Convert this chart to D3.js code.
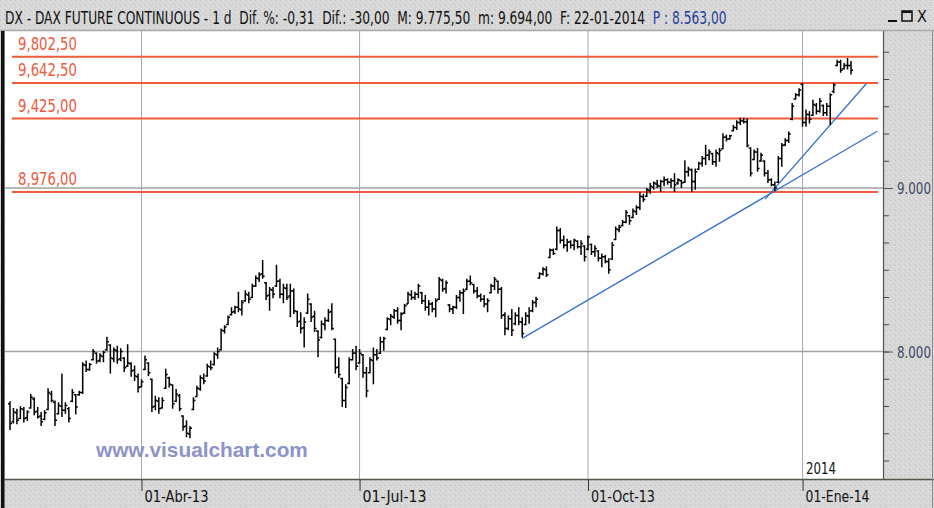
<!DOCTYPE html>
<html>
<head>
<meta charset="utf-8">
<script src="https://cdn.jsdelivr.net/npm/d3@7"></script>
<style>
  html, body { margin: 0; padding: 0; background: #fff; }
  svg { display: block; }
</style>
</head>
<body>
<svg id="chart"></svg>
<script>
const width = 934;
const height = 508;

// daily bars, 05-02-2013 ... 22-01-2014
const highs = [
  7695,7655,7650,7665,7660,7640,7740,7720,7660,7630,
  7640,7775,7760,7700,7690,7865,7690,7660,7770,7740,
  7760,7935,7945,7930,8015,7995,7990,8005,8090,8045,
  8025,8035,8020,7965,8045,7935,7915,7865,7830,7975,
  7935,7835,7730,7720,7720,7895,7845,7800,7770,7740,
  7610,7580,7545,7720,7790,7855,7865,7925,7945,7995,
  8025,8140,8160,8220,8270,8280,8365,8315,8375,8365,
  8415,8465,8485,8560,8425,8395,8395,8530,8445,8415,
  8415,8415,8385,8250,8240,8210,8355,8295,8250,8130,
  8190,8210,8260,8295,8080,7965,7840,7800,7965,8015,
  8035,8015,7985,7905,7965,8025,8015,8090,8090,8210,
  8230,8260,8270,8240,8290,8365,8375,8365,8415,8365,
  8345,8315,8305,8325,8455,8445,8435,8290,8280,8345,
  8375,8385,8445,8465,8415,8395,8355,8345,8325,8415,
  8455,8435,8395,8240,8220,8260,8240,8270,8210,8240,
  8270,8315,8335,8485,8515,8520,8630,8630,8765,8755,
  8710,8690,8680,8690,8680,8680,8650,8710,8660,8650,
  8620,8600,8590,8570,8670,8765,8775,8805,8865,8835,
  8875,8895,8975,8965,9000,9030,9040,9050,9050,9070,
  9060,9060,9090,9060,9050,9170,9130,9120,9120,9160,
  9195,9265,9235,9215,9235,9245,9335,9325,9325,9385,
  9415,9430,9430,9425,9250,9235,9245,9215,9170,9110,
  9060,9040,9195,9275,9305,9345,9520,9580,9610,9640,
  9480,9470,9540,9520,9550,9510,9520,9580,9640,9785,
  9785,9765,9795,9776
];
const lows = [
  7520,7560,7555,7585,7565,7575,7650,7610,7590,7545,
  7580,7640,7690,7545,7615,7600,7620,7565,7690,7615,
  7730,7740,7875,7880,7945,7925,7935,7935,8005,7865,
  7935,7925,7940,7875,7905,7845,7820,7750,7780,7885,
  7850,7630,7640,7620,7650,7770,7780,7650,7690,7635,
  7515,7475,7470,7640,7720,7760,7800,7845,7885,7915,
  7955,8005,8110,8160,8220,8230,8240,8220,8305,8295,
  8325,8395,8425,8445,8315,8250,8325,8395,8325,8295,
  8315,8210,8230,8150,8110,8025,8230,8180,8120,7965,
  8080,8130,8180,8130,7865,7840,7660,7655,7800,7945,
  7885,7925,7840,7720,7865,7800,7945,7985,8005,8130,
  8160,8200,8170,8130,8230,8290,8315,8315,8325,8290,
  8250,8220,8240,8210,8315,8365,8355,8240,8230,8260,
  8305,8230,8375,8405,8355,8325,8305,8270,8240,8355,
  8375,8355,8200,8100,8130,8095,8160,8160,8085,8160,
  8170,8240,8270,8445,8465,8455,8570,8590,8620,8660,
  8630,8610,8630,8620,8630,8590,8550,8620,8590,8580,
  8550,8515,8540,8475,8560,8680,8730,8765,8785,8775,
  8815,8835,8865,8915,8945,8965,8990,9000,8975,9010,
  9020,9000,8975,9020,9000,9030,9070,8975,8990,9110,
  9130,9140,9170,9140,9130,9160,9235,9285,9295,9345,
  9355,9385,9395,9250,9070,9170,9100,9160,9070,9030,
  9010,8980,9030,9130,9255,9275,9415,9540,9560,9375,
  9375,9395,9440,9450,9460,9440,9440,9385,9580,9745,
  9705,9725,9725,9694
];
const opens = [
  7680,7570,7625,7590,7645,7595,7655,7710,7635,7605,
  7585,7645,7740,7690,7620,7665,7640,7650,7695,7735,
  7735,7750,7915,7890,7950,7990,7945,7970,8010,8040,
  7955,8005,7955,7960,7910,7925,7885,7845,7785,7890,
  7930,7830,7665,7695,7655,7775,7840,7795,7695,7730,
  7605,7545,7495,7645,7725,7770,7835,7850,7905,7920,
  7980,8010,8125,8165,8225,8245,8270,8255,8310,8345,
  8330,8400,8445,8475,8420,8345,8375,8400,8430,8350,
  8385,8340,8370,8245,8185,8145,8235,8290,8215,8125,
  8085,8165,8190,8245,8075,7905,7835,7700,7805,7950,
  7990,7930,7980,7870,7870,7945,7980,7990,8060,8135,
  8195,8210,8250,8190,8235,8290,8345,8330,8350,8360,
  8310,8270,8290,8260,8320,8435,8385,8285,8260,8270,
  8330,8360,8380,8430,8410,8370,8340,8320,8290,8360,
  8400,8430,8380,8225,8140,8200,8170,8220,8180,8165,
  8215,8250,8300,8450,8475,8500,8575,8620,8625,8740,
  8680,8650,8670,8650,8675,8640,8645,8625,8655,8610,
  8615,8570,8580,8550,8565,8685,8745,8770,8790,8830,
  8820,8855,8880,8945,8950,8985,9005,9025,9010,9040,
  9050,9035,9045,9030,9045,9035,9100,9110,9040,9115,
  9150,9180,9200,9210,9160,9210,9240,9310,9300,9350,
  9370,9400,9410,9405,9245,9175,9220,9165,9165,9090,
  9050,9020,9035,9180,9265,9290,9420,9545,9570,9635,
  9400,9450,9445,9505,9470,9505,9460,9500,9590,9750,
  9770,9730,9750,9750
];
const closes = [
  7560,7630,7580,7650,7590,7630,7720,7630,7600,7570,
  7625,7750,7700,7580,7670,7640,7670,7590,7750,7660,
  7750,7920,7890,7920,8000,7940,7975,7995,8060,7960,
  8010,7950,8000,7900,7930,7880,7850,7780,7815,7950,
  7870,7660,7700,7650,7700,7860,7800,7680,7740,7650,
  7540,7500,7530,7700,7775,7840,7820,7910,7900,7985,
  8000,8130,8150,8210,8240,8270,8260,8300,8350,8320,
  8400,8450,8470,8460,8340,8380,8350,8430,8350,8390,
  8330,8370,8250,8180,8140,8180,8320,8210,8140,8070,
  8170,8190,8240,8140,7900,7860,7700,7780,7950,7990,
  7910,7990,7870,7760,7950,7980,7960,8060,8080,8200,
  8215,8250,8190,8230,8280,8350,8330,8350,8400,8310,
  8270,8290,8260,8310,8440,8380,8420,8260,8270,8330,
  8360,8370,8430,8420,8370,8340,8320,8290,8310,8400,
  8440,8380,8220,8140,8200,8130,8220,8180,8110,8220,
  8250,8300,8320,8475,8505,8470,8620,8600,8740,8680,
  8650,8670,8650,8680,8640,8660,8580,8700,8610,8630,
  8570,8580,8550,8500,8650,8750,8760,8790,8850,8800,
  8860,8880,8950,8930,8990,9010,9030,9015,9040,9050,
  9035,9045,9020,9050,9030,9100,9115,9040,9100,9150,
  9180,9200,9220,9160,9215,9230,9310,9300,9320,9370,
  9400,9410,9405,9260,9090,9220,9120,9200,9090,9050,
  9020,9000,9180,9260,9290,9330,9500,9570,9600,9400,
  9450,9420,9510,9470,9530,9460,9500,9570,9630,9770,
  9720,9750,9750,9720
];

// horizontal support / resistance levels
const levels = [9802.5, 9642.5, 9425, 8976];
const levelLabels = ["9,802,50", "9,642,50", "9,425,00", "8,976,00"];

// price grid and right axis labels
const gridPrices = [8000, 9000];
const gridLabels = ["8.000", "9.000"];

// month ticks (bar index) and labels
const monthIdx = [38, 101, 167, 229];
const monthLabels = ["01-Abr-13", "01-Jul-13", "01-Oct-13", "01-Ene-14"];

// trend lines [bar index, price]
const trendLow = [[148, 8080], [250.6, 9347]];
const trendSteep = [[218.2, 8932], [247.4, 9638]];

const titleMain = "DX - DAX FUTURE CONTINUOUS - 1 d  Dif. %: -0,31  Dif.: -30,00  M: 9.775,50  m: 9.694,00  F: 22-01-2014  ";
const titleLast = "P : 8.563,00";

const narrow = "'Liberation Sans Narrow', 'Arial Narrow', 'DejaVu Sans Condensed', 'Liberation Sans', sans-serif";

const plotLeft = 5, plotRight = 883, plotTop = 31, plotBottom = 479;

const svg = d3.select("#chart")
    .attr("width", width)
    .attr("height", height);

// grainy gray for the panels
const defs = svg.append("defs");
const pat = defs.append("pattern")
    .attr("id", "grain")
    .attr("width", 5).attr("height", 5)
    .attr("patternUnits", "userSpaceOnUse");
pat.append("rect").attr("width", 5).attr("height", 5).attr("fill", "#d7d7d7");
[[0, 0, "#c6c6c6"], [3, 1, "#e8e8e8"], [1, 3, "#e4e4e4"], [4, 4, "#c9c9c9"], [2, 2, "#cfcfcf"]]
    .forEach(p => pat.append("rect").attr("x", p[0]).attr("y", p[1])
        .attr("width", 1).attr("height", 1).attr("fill", p[2]));

svg.append("rect").attr("width", width).attr("height", height).attr("fill", "url(#grain)");

// plot background
svg.append("rect")
    .attr("x", plotLeft).attr("y", plotTop)
    .attr("width", plotRight - plotLeft).attr("height", plotBottom - plotTop)
    .attr("fill", "#fff");

const x = d3.scaleLinear().domain([0, highs.length - 1]).range([10, 851]);
const y = d3.scaleLinear().domain([8000, 9000]).range([351.5, 188]);

// squeeze a text horizontally so that it spans w pixels
function fitWidth(sel, w) {
    sel.each(function () {
        const t = d3.select(this);
        const nat = this.getComputedTextLength();
        const x0 = +t.attr("x"), y0 = +t.attr("y");
        const k = w / nat;
        t.attr("x", 0).attr("y", 0)
            .attr("transform", `translate(${x0},${y0}) scale(${k},1)`);
    });
}

// title bar
svg.append("line")
    .attr("x1", 0).attr("x2", width).attr("y1", 30.5).attr("y2", 30.5)
    .attr("stroke", "#a9a9a9").attr("stroke-width", 1.5);

const title = svg.append("text")
    .attr("x", 5).attr("y", 24)
    .attr("font-family", narrow).attr("font-size", 18)
    .attr("fill", "#111")
    .attr("xml:space", "preserve");
title.append("tspan").text(titleMain);
title.append("tspan").attr("fill", "#1f3c9c").text(titleLast);
fitWidth(title, 722);

// window buttons
svg.append("line").attr("x1", 888).attr("x2", 897).attr("y1", 21).attr("y2", 21)
    .attr("stroke", "#111").attr("stroke-width", 2);
svg.append("rect").attr("x", 902).attr("y", 11).attr("width", 10).attr("height", 10)
    .attr("fill", "none").attr("stroke", "#111").attr("stroke-width", 1.5);
svg.append("line").attr("x1", 902).attr("x2", 912).attr("y1", 12).attr("y2", 12)
    .attr("stroke", "#111").attr("stroke-width", 2);
svg.append("text").attr("x", 917).attr("y", 22)
    .attr("font-family", narrow).attr("font-size", 16).attr("fill", "#111")
    .text("X");

// month grid lines
svg.append("g")
    .selectAll("line")
    .data(monthIdx)
    .join("line")
    .attr("x1", d => x(d)).attr("x2", d => x(d))
    .attr("y1", plotTop).attr("y2", plotBottom)
    .attr("stroke", "#a5a7bf").attr("stroke-width", 1);

// price grid lines
svg.append("g")
    .selectAll("line")
    .data(gridPrices)
    .join("line")
    .attr("x1", plotLeft).attr("x2", plotRight)
    .attr("y1", d => y(d)).attr("y2", d => y(d))
    .attr("stroke", "#a2a2a2").attr("stroke-width", 1.5);

// red levels
svg.append("g")
    .selectAll("line")
    .data(levels)
    .join("line")
    .attr("x1", 12).attr("x2", 878)
    .attr("y1", d => y(d)).attr("y2", d => y(d))
    .attr("stroke", "#ef5b3b").attr("stroke-width", 2);

svg.append("g")
    .selectAll("text")
    .data(levels)
    .join("text")
    .attr("x", 18).attr("y", d => y(d) - 7)
    .attr("font-family", narrow).attr("font-size", 17)
    .attr("fill", "#ec5a3e")
    .text((d, i) => levelLabels[i])
    .call(fitWidth, 59);

// trend lines
const tline = d3.line().x(d => x(d[0])).y(d => y(d[1]));
[trendLow, trendSteep].forEach(t => {
    svg.append("path")
        .datum(t)
        .attr("fill", "none")
        .attr("stroke", "#3a72d4")
        .attr("stroke-width", 1.4)
        .attr("d", tline);
});

// OHLC bars
svg.append("g")
    .selectAll("path")
    .data(d3.range(highs.length))
    .join("path")
    .attr("fill", "none")
    .attr("stroke", "#000")
    .attr("stroke-width", 1.5)
    .attr("d", i => {
        const xi = x(i);
        return `M${xi},${y(highs[i])}V${y(lows[i])}` +
            `M${xi - 2},${y(opens[i])}H${xi}` +
            `M${xi},${y(closes[i])}H${xi + 2}`;
    });

// watermark and year
svg.append("text")
    .attr("x", 96).attr("y", 457)
    .attr("font-family", "'Liberation Sans', Arial, sans-serif")
    .attr("font-weight", "bold").attr("font-size", 21)
    .attr("fill", "#8c93c8")
    .text("www.visualchart.com")
    .call(fitWidth, 212);

svg.append("text")
    .attr("x", 806).attr("y", 474)
    .attr("font-family", narrow).attr("font-size", 16)
    .attr("fill", "#111")
    .text("2014")
    .call(fitWidth, 30);

// panel borders
svg.append("line")
    .attr("x1", plotRight + 0.5).attr("x2", plotRight + 0.5)
    .attr("y1", plotTop).attr("y2", plotBottom)
    .attr("stroke", "#555").attr("stroke-width", 1.2);
svg.append("line")
    .attr("x1", plotLeft).attr("x2", width)
    .attr("y1", plotBottom + 0.5).attr("y2", plotBottom + 0.5)
    .attr("stroke", "#4f5a4a").attr("stroke-width", 1.5);
svg.append("rect")
    .attr("x", 1).attr("y", plotTop).attr("width", 3.5).attr("height", height - plotTop)
    .attr("fill", "#111");
svg.append("line")
    .attr("x1", 932.5).attr("x2", 932.5).attr("y1", plotTop).attr("y2", height)
    .attr("stroke", "#8a8a8a").attr("stroke-width", 1);

// right price axis
const minorTicks = d3.range(7000, 9900, 1000 / 6).filter(v => y(v) > plotTop + 8 && y(v) < plotBottom - 4);
const yAxisMinor = svg.append("g")
    .attr("transform", `translate(${plotRight + 1},0)`)
    .call(d3.axisRight(y).tickValues(minorTicks).tickSize(5).tickFormat(""));
yAxisMinor.select(".domain").remove();
yAxisMinor.selectAll("line").attr("stroke", "#444");

const yAxis = svg.append("g")
    .attr("transform", `translate(${plotRight + 1},0)`)
    .call(d3.axisRight(y).tickValues(gridPrices).tickSize(9).tickFormat(""));
yAxis.select(".domain").remove();
yAxis.selectAll("line").attr("stroke", "#555");

svg.append("g")
    .selectAll("text")
    .data(gridPrices)
    .join("text")
    .attr("x", 897).attr("y", d => y(d) + 6)
    .attr("font-family", narrow).attr("font-size", 16)
    .attr("fill", "#3a4862")
    .text((d, i) => gridLabels[i])
    .call(fitWidth, 34);

// bottom date axis
const xAxis = svg.append("g")
    .attr("transform", `translate(0,${plotBottom + 1})`)
    .call(d3.axisBottom(x).tickValues(monthIdx).tickSize(11).tickFormat(""));
xAxis.select(".domain").remove();
xAxis.selectAll("line").attr("stroke", "#333");

svg.append("g")
    .selectAll("text")
    .data(monthIdx)
    .join("text")
    .attr("x", d => x(d) + 3).attr("y", 502)
    .attr("font-family", narrow).attr("font-size", 16)
    .attr("fill", "#111")
    .text((d, i) => monthLabels[i])
    .call(fitWidth, 64);
</script>
</body>
</html>
